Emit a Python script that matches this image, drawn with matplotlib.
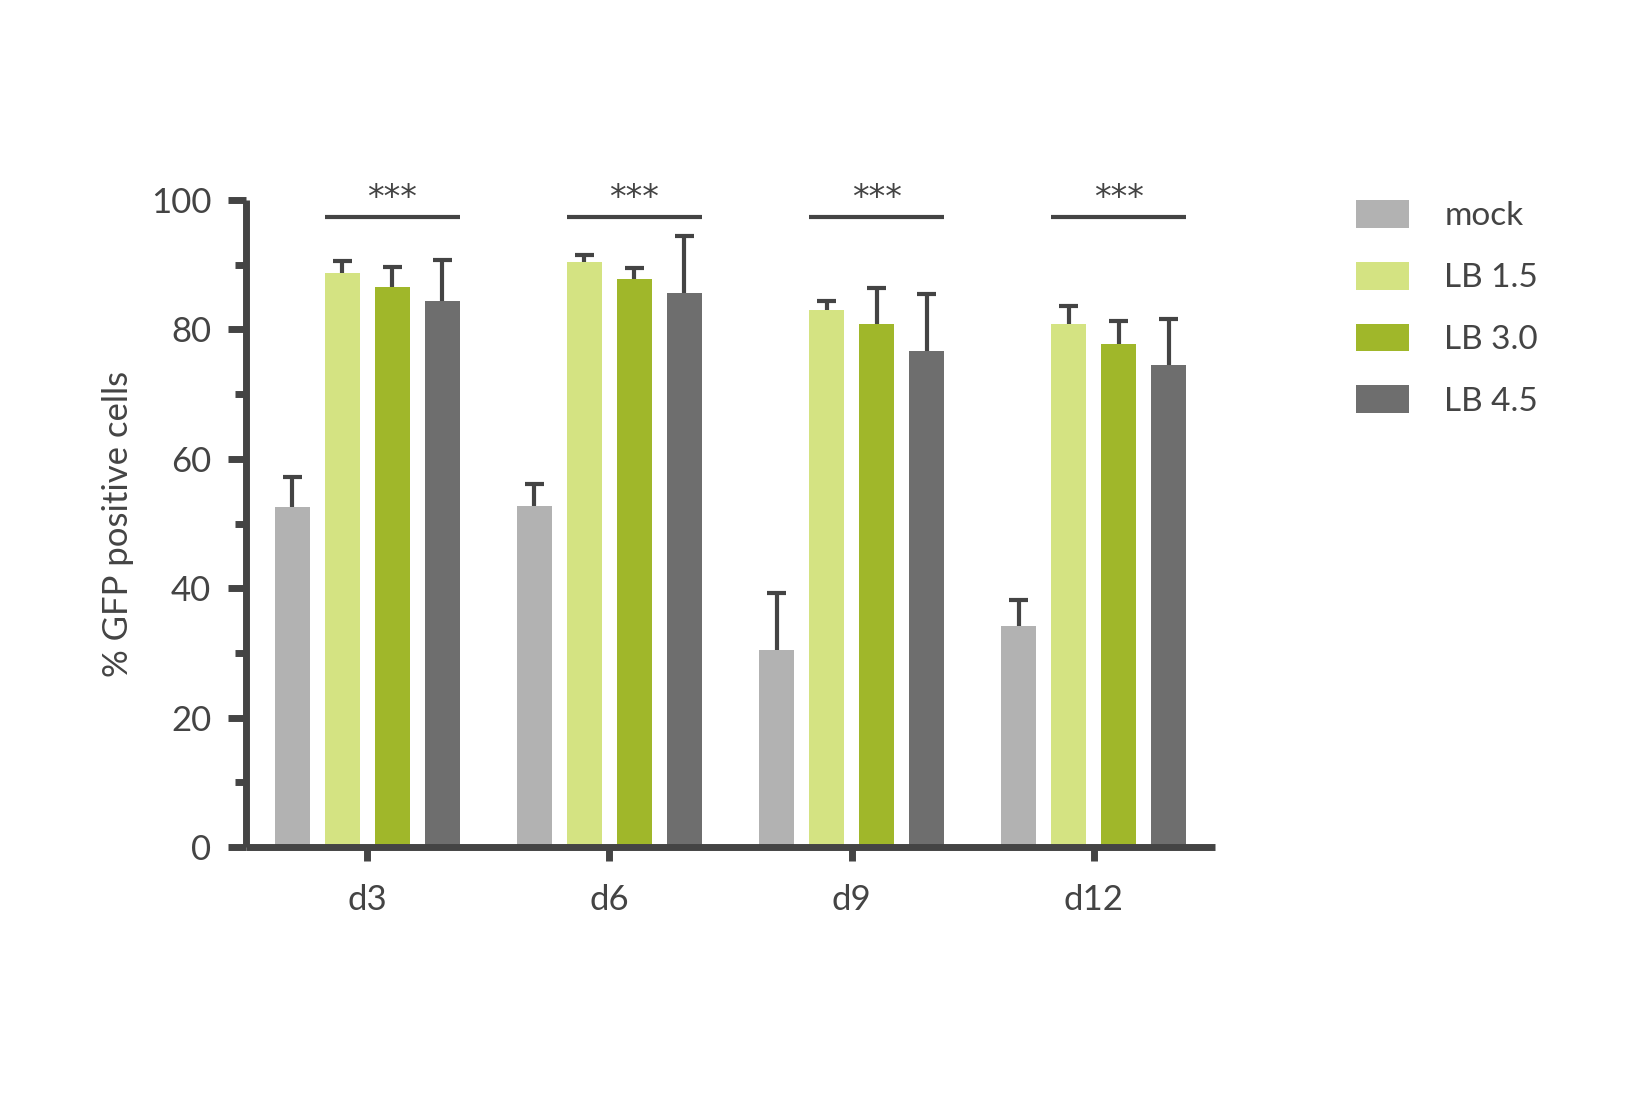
import numpy as np
import matplotlib
matplotlib.use("Agg")
from matplotlib import pyplot as plt
from matplotlib.ticker import MultipleLocator

# data (mean and length of upper error bar)
days = ["d3", "d6", "d9", "d12"]
groups = ["mock", "LB 1.5", "LB 3.0", "LB 4.5"]
mock = [52.5, 52.7, 30.4, 34.2]
lb15 = [88.7, 90.4, 83.0, 80.8]
lb30 = [86.6, 87.8, 80.8, 77.7]
lb45 = [84.4, 85.6, 76.7, 74.5]
mock_err = [4.7, 3.4, 8.9, 4.0]
lb15_err = [1.9, 1.1, 1.4, 2.8]
lb30_err = [3.0, 1.7, 5.6, 3.6]
lb45_err = [6.3, 8.8, 8.8, 7.1]
sig = ["***", "***", "***", "***"]

colors = ["#b2b2b2", "#d4e382", "#a0b72a", "#6e6e6e"]
dark = "#444444"

plt.rcParams['font.family'] = ['Lato', 'DejaVu Sans']

fig = plt.figure(figsize=(16.47, 10.96), dpi=100)
ax = fig.add_axes([0.1494, 0.2272, 0.5883, 0.5903])

values = [mock, lb15, lb30, lb45]
errors = [mock_err, lb15_err, lb30_err, lb45_err]
x = np.arange(len(days))
step = 0.2066
width = 0.1446
cap = 0.039

for j, (vals, errs) in enumerate(zip(values, errors)):
    pos = x + (j - 1.5) * step
    vals = np.array(vals)
    tops = vals + np.array(errs)
    ax.bar(pos, vals, width, color=colors[j], label=groups[j], zorder=2)
    # upper error bar only, with cap
    ax.vlines(pos, vals, tops, color=dark, lw=3, zorder=3)
    ax.hlines(tops, pos - cap, pos + cap, color=dark, lw=3, zorder=3)

# significance lines
for i, s in enumerate(sig):
    x0 = x[i] + (1 - 1.5) * step - width / 2
    x1 = x[i] + (3 - 1.5) * step + width / 2
    ax.plot([x0, x1], [97.4, 97.4], color=dark, lw=3, clip_on=False,
            solid_capstyle='butt')
    ax.text((x0 + x1) / 2, 98.8, s, ha='center', va='baseline',
            fontsize=24, color=dark, family='DejaVu Sans')

ax.set_xlim(-0.5, 3.5)
ax.set_ylim(0, 100)
ax.set_xticks(x)
ax.set_xticklabels(days)
ax.yaxis.set_major_locator(MultipleLocator(20))
ax.yaxis.set_minor_locator(MultipleLocator(10))

for side in ['top', 'right']:
    ax.spines[side].set_visible(False)
for side in ['left', 'bottom']:
    ax.spines[side].set_linewidth(5)
    ax.spines[side].set_color(dark)
    ax.spines[side].set_capstyle('butt')

ax.tick_params(axis='y', which='major', length=13, width=5, color=dark,
               labelsize=25, labelcolor=dark, pad=12)
ax.tick_params(axis='y', which='minor', length=8, width=5, color=dark)
ax.tick_params(axis='x', which='major', length=10, width=5, color=dark,
               labelsize=25, labelcolor=dark, pad=17)

ax.set_ylabel("% GFP positive cells", fontsize=25, color=dark, labelpad=12)

leg = ax.legend(loc='upper left', bbox_to_anchor=(1.1455, 1.0), frameon=False,
                fontsize=24, handlelength=1.6, handleheight=0.91,
                handletextpad=1.05, labelspacing=0.91, borderaxespad=0,
                borderpad=0)
for t in leg.get_texts():
    t.set_color(dark)

fig.savefig("out.png", dpi=100)
